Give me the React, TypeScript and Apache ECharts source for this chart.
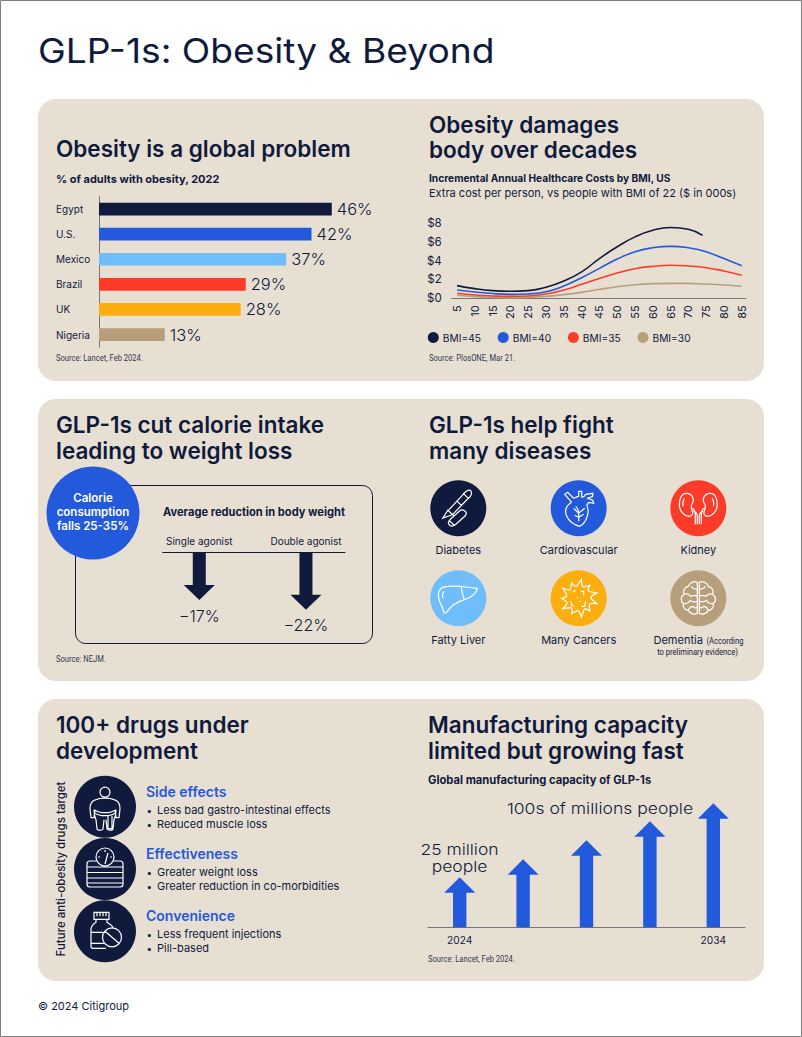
import React, { useEffect, useRef } from "react";
import * as echarts from "echarts";

const NAVY = "#0f1a3c";
const BLUE = "#2359db";
const SKY = "#6fbdfb";
const RED = "#fc3c28";
const AMBER = "#fdae0f";
const TAN = "#b89f7c";
const PANEL = "#e8dfd3";
const AXIS = "#77767a";
const FONT = "Inter";
const NARROW = "Roboto";

const countries = ["Egypt", "U.S.", "Mexico", "Brazil", "UK", "Nigeria"];
const obesityPct = [46, 42, 37, 29, 28, 13];
const countryColors = [NAVY, BLUE, SKY, RED, AMBER, TAN];

const ages = [5, 10, 15, 20, 25, 30, 35, 40, 45, 50, 55, 60, 65, 70, 75, 80, 85];
const ages45 = [5, 10, 15, 20, 25, 30, 35, 40, 45, 50, 55, 60, 65, 70, 74];
const bmi45 = [1.34, 1.02, 0.81, 0.74, 0.81, 1.16, 1.83, 2.8, 4.2, 5.45, 6.5, 7.2, 7.5, 7.3, 6.65];
const bmi40 = [0.88, 0.67, 0.5, 0.42, 0.46, 0.7, 1.3, 2.18, 3.17, 4.15, 4.93, 5.35, 5.5, 5.35, 4.93, 4.2, 3.45];
const bmi35 = [0.53, 0.35, 0.25, 0.2, 0.25, 0.46, 0.88, 1.48, 2.1, 2.68, 3.13, 3.38, 3.49, 3.42, 3.24, 2.89, 2.43];
const bmi30 = [0.32, 0.18, 0.1, 0.07, 0.1, 0.2, 0.39, 0.63, 0.95, 1.23, 1.44, 1.55, 1.58, 1.58, 1.5, 1.4, 1.27];

const agonists = ["Single agonist", "Double agonist"];
const weightChange = [-17, -22];

const capacityYears = ["2024", "", "", "", "2034"];
const capacityLevels = [50, 68, 87, 106, 124];

const diseases = ["Diabetes", "Cardiovascular", "Kidney", "Fatty Liver", "Many Cancers"];

const spikes = (() => {
  let d = "";
  const n = 11;
  for (let i = 0; i < n; i++) {
    const a0 = (i / n) * Math.PI * 2;
    const a1 = ((i + 0.5) / n) * Math.PI * 2;
    const a2 = ((i + 1) / n) * Math.PI * 2;
    const P = (a: number, r: number) => `${(Math.cos(a) * r).toFixed(1)} ${(Math.sin(a) * r).toFixed(1)}`;
    if (i === 0) d += `M${P(a0, 12)}`;
    d += `L${P(a1, i % 2 ? 17 : 19)}Q${P(a1 + 0.12, 11)} ${P(a2, 12.5)}`;
  }
  return d + "Z M-6 -6L-3 -8 M2 -7L5 -7 5 -3 M-8 3L-7 7 -5 8 M7 3L6 8 3 8 M-2 -1L-1 -1 M1 3L2 3";
})();

const icons: Record<string, string> = {
  icoPen:
    "M-15.5 9.8L-11.5 3.5 -9 1 4 -13C6 -16 10 -19.5 12.5 -17.5C14.5 -15 12 -11 9 -9L-5 5.5 -7.5 7Z M-11 1.5L-4.5 7.5 M-1 -7L3 -3 M5 -15L10 -10 M-8.5 17C-11 15 -10 13 -8 11L1.5 2.5C3.5 1 5.5 1.5 7.5 3.5C8.5 5 8 6 7 7.5L-3 16.5C-5 18 -7 18 -8.5 17Z M-9.5 12L-4 17",
  icoHeart:
    "M-7 -6C-12 -3 -14.5 2 -12 8C-10 13 -4 17 1 18C5 16 8 11 9 6C10 2 9 -1 8 -3 M-7 -6L-14 -14 -11 -16 -5 -10 M-5 -10C-3 -11 -1 -12 0 -12L0 -17 3 -17 3 -11 M3 -11C5 -11 6 -12 7 -14L14 -15 14 -12 9 -10 14 -8 15 -5 10 -6 8 -3 M-3 -2C-1 0 0 2 0 5 M0 13L0 5 -5 0 M0 5L6 0 M0 9L5 6 M0 9L-4 7",
  icoKidney:
    "M-12 -15C-17 -15 -19 -9 -19 -4C-19 3 -14 8 -9 8C-6 8 -5 5 -6 3C-7 0 -8 -3 -6 -5C-4 -8 -5 -15 -12 -15Z M-14 -10C-15 -8 -16 -5 -15 -2 M-6 0C-3 1 -3 4 -3 7L-3 16 M-1 16L-1 8C-1 5 -3 3 -5 3",
  icoLiver:
    "M-20 -3C-20 -10 -16 -12 -10 -12C0 -13 8 -11 19 -10C18 -5 13 -1 7 1C0 3 -7 7 -11 13C-13 16 -15 15 -15 12C-16 7 -20 4 -20 -3Z M3 -12C3 -8 4 -4 6 1 M-14 -7C-16 -5 -16 -2 -15 0",
  icoCancer: spikes,
  icoBrain:
    "M-1 -16C-5 -18 -9 -15 -10 -12C-14 -11 -16 -7 -14 -4C-18 -2 -18 3 -15 5C-16 9 -13 12 -10 12C-9 15 -4 17 -1 15Z M-1 -9C-4 -9 -6 -10 -7 -12 M-14 -4C-11 -5 -9 -4 -8 -2C-6 -3 -4 -3 -1 -3 M-15 5C-12 6 -9 4 -8 2C-6 4 -4 4 -1 3 M-10 12C-9 9 -7 8 -5 8C-4 10 -3 10 -1 9",
  icoBody:
    "M5 -14.5A5 5 0 1 1 -5 -14.5A5 5 0 1 1 5 -14.5Z M-9 -7C-13 -6 -15 -2 -15 2L-14 11 -11 11 -10 3 M9 -7C13 -6 15 -2 15 2L14 11 11 11 10 3 M-9 -7C-5 -9 5 -9 9 -7 M-11 3C-11 8 -10 11 -9 13L-8 22C-8 24 -2 24 -2 22L-1 13 M11 3C11 8 10 11 9 13L8 22C8 24 2 24 2 22L1 13 M-11 3C-5 7 5 7 11 3 M-11 6C-5 10 5 10 11 6 M3 9L3 22 7 22 7 9",
  icoScale:
    "M-9 -8L-15 -8A3 3 0 0 0 -18 -5L-18 15A3 3 0 0 0 -15 18L15 18A3 3 0 0 0 18 15L18 -5A3 3 0 0 0 15 -8L9 -8 M-18 -2L18 -2 M-18 3.5L18 3.5 M-18 9L18 9 M-18 14L18 14 M9 -12A9 9 0 1 1 -9 -12A9 9 0 1 1 9 -12Z M0 -5L3 -16 M0 -19L0 -17 M-7 -12L-5 -12 M7 -12L5 -12",
  icoBottle:
    "M-11 -19L4 -19 4 -12 -11 -12Z M-8 -19L-8 -15 M-5 -19L-5 -15 M-2 -19L-2 -15 M1 -19L1 -15 M-9 -12L-9 -9C-12 -7 -14 -5 -14 -2L-14 15C-14 16 -13 17 -12 17L1 17 M2 -12L2 -9C5 -7 7 -6 8 -4 M-14 1L0 1 M-14 12L-1 12 M16.5 6A9.5 9.5 0 1 1 -2.5 6A9.5 9.5 0 1 1 16.5 6Z M0 0L14 12",
};
Object.keys(icons).forEach((k) => {
  echarts.graphic.registerShape(k, echarts.graphic.extendPath(icons[k], {}));
});

const T = (
  x: number,
  y: number,
  text: string,
  size: number,
  weight: number | string = 400,
  fill = NAVY,
  align = "left",
  font = FONT,
  extra: any = {}
) => ({
  type: "text",
  x,
  y,
  ...extra,
  style: { text, x: 0, y: 0, fontSize: size, fontWeight: weight, fontFamily: font, fill, align, verticalAlign: "middle" },
});

const SOURCE_INK = "#33374f";
const N = (x: number, y: number, text: string, align = "left", fill = SOURCE_INK) =>
  T(x, y, text, 9.5, 400, fill, align, NARROW, { scaleX: 0.8 });

const panel = (y: number) => ({
  type: "rect",
  shape: { x: 38, y, width: 726, height: 282, r: 18 },
  style: { fill: PANEL },
});

const disc = (cx: number, cy: number, r: number, fill: string) => ({
  type: "circle",
  shape: { cx, cy, r },
  style: { fill },
});

const icon = (name: string, x: number, y: number, extra: any = {}) => ({
  type: name,
  x,
  y,
  ...extra,
  style: { fill: "none", stroke: "#fff", lineWidth: 1.2 },
});

const H2 = 22.5;
const BODY = 11;
const graphicElements: any[] = [
  { type: "rect", shape: { x: 0.5, y: 0.5, width: 801, height: 1036 }, style: { fill: "#fff", stroke: "#7f7f7f", lineWidth: 1 } },
  panel(99),
  panel(399),
  panel(699),
  T(38, 50, "GLP-1s: Obesity & Beyond", 34.5, 400, NAVY, "left", FONT, { scaleX: 1.078 }),
  T(56, 148.5, "Obesity is a global problem", H2, 600),
  T(56, 179, "% of adults with obesity, 2022", 11, 700),
  N(56, 358, "Source: Lancet, Feb 2024."),
  T(429, 124, "Obesity damages", H2, 600),
  T(429, 149.5, "body over decades", H2, 600),
  T(429, 178, "Incremental Annual Healthcare Costs by BMI, US", 10.2, 700),
  T(429, 193, BODY === 11 ? "Extra cost per person, vs people with BMI of 22 ($ in 000s)" : "", 11, 400),
  N(429, 358, "Source: PlosONE, Mar 21."),
  T(56, 424.5, "GLP-1s cut calorie intake", H2, 600),
  T(56, 450.5, "leading to weight loss", H2, 600),
  T(429, 424.5, "GLP-1s help fight", H2, 600),
  T(429, 450.5, "many diseases", H2, 600),
  { type: "rect", shape: { x: 75.5, y: 485.5, width: 297, height: 158, r: 10 }, style: { fill: "none", stroke: NAVY, lineWidth: 1 } },
  disc(93, 513, 46.5, BLUE),
  T(93, 497.5, "Calorie", 11.5, 600, "#fff", "center"),
  T(93, 512, "consumption", 11.5, 600, "#fff", "center"),
  T(93, 526, "falls 25-35%", 11.5, 600, "#fff", "center"),
  T(163, 512, "Average reduction in body weight", 11.1, 700),
  N(56, 659, "Source: NEJM."),

  disc(458.3, 508.3, 28, NAVY),
  disc(578.7, 508.3, 28, BLUE),
  disc(698.3, 508.3, 28, RED),
  disc(458.3, 598.3, 28, SKY),
  disc(578.7, 598.3, 28, AMBER),
  disc(698.3, 598.3, 28, TAN),
  icon("icoPen", 458.3, 508.3),
  icon("icoHeart", 578.7, 508.3),
  icon("icoKidney", 698.3, 508.3),
  icon("icoKidney", 698.3, 508.3, { scaleX: -1 }),
  icon("icoLiver", 458.3, 598.3),
  icon("icoCancer", 578.7, 598.3),
  icon("icoBrain", 698.3, 598.3),
  icon("icoBrain", 698.3, 598.3, { scaleX: -1 }),
  T(458.3, 549.5, diseases[0], BODY, 400, NAVY, "center"),
  T(578.7, 549.5, diseases[1], BODY, 400, NAVY, "center"),
  T(698.3, 549.5, diseases[2], BODY, 400, NAVY, "center"),
  T(458.3, 640, diseases[3], BODY, 400, NAVY, "center"),
  T(578.7, 640, diseases[4], BODY, 400, NAVY, "center"),
  T(653.5, 640, "Dementia", BODY, 400),
  N(706.5, 640.5, "(According", "left", NAVY),
  N(697.5, 651.5, "to preliminary evidence)", "center", NAVY),

  T(56, 724.5, "100+ drugs under", H2, 600),
  T(56, 750.5, "development", H2, 600),
  T(428, 724.5, "Manufacturing capacity", H2, 600),
  T(428, 750.5, "limited but growing fast", H2, 600),
  T(428, 780, "Global manufacturing capacity of GLP-1s", 11.2, 700),
  N(428, 959, "Source: Lancet, Feb 2024."),
  T(459.5, 849, "25 million", 15, 300, NAVY, "center", FONT, { scaleX: 1.165 }),
  T(459.5, 866, "people", 15, 300, NAVY, "center", FONT, { scaleX: 1.165 }),
  T(600, 808.5, "100s of millions people", 15, 300, NAVY, "center", FONT, { scaleX: 1.17 }),

  T(61, 869, "Future anti-obesity drugs target", 11.5, 500, NAVY, "center", FONT, { rotation: Math.PI / 2 }),
  disc(105, 806.7, 31, NAVY),
  disc(105, 869, 31, NAVY),
  disc(105, 931.3, 31, NAVY),
  icon("icoBody", 105, 806.7),
  icon("icoScale", 105, 869),
  icon("icoBottle", 105, 931.3),

  T(146, 791, "Side effects", 14, 600, BLUE),
  T(146.5, 809.5, "•", 10),
  T(157, 809.5, "Less bad gastro-intestinal effects", BODY),
  T(146.5, 823.5, "•", 10),
  T(157, 823.5, "Reduced muscle loss", BODY),
  T(146, 853, "Effectiveness", 14, 600, BLUE),
  T(146.5, 871.5, "•", 10),
  T(157, 871.5, "Greater weight loss", BODY),
  T(146.5, 885.5, "•", 10),
  T(157, 885.5, "Greater reduction in co-morbidities", BODY),
  T(146, 915, "Convenience", 14, 600, BLUE),
  T(146.5, 933.5, "•", 10),
  T(157, 933.5, "Less frequent injections", BODY),
  T(146.5, 947.5, "•", 10),
  T(157, 947.5, "Pill-based", BODY),

  T(38, 1006, "© 2024 Citigroup", BODY),
];

const noAxisDecor = { axisTick: { show: false }, splitLine: { show: false } };

const lineSeries = (name: string, xs: number[], ys: number[], color: string) => ({
  type: "line",
  name,
  xAxisIndex: 1,
  yAxisIndex: 1,
  data: ys.map((v, i) => [xs[i], v]),
  smooth: true,
  showSymbol: false,
  symbol: "circle",
  lineStyle: { color, width: 1.6 },
  itemStyle: { color },
});

const option: any = {
  animation: false,
  backgroundColor: "#fff",
  textStyle: { fontFamily: FONT },
  graphic: { elements: graphicElements },
  legend: {
    left: 422.8,
    top: 327,
    icon: "circle",
    itemWidth: 11,
    itemHeight: 11,
    itemGap: 16.8,
    selectedMode: false,
    data: ["BMI=45", "BMI=40", "BMI=35", "BMI=30"],
    textStyle: { fontFamily: FONT, fontSize: 10.2, color: NAVY, padding: [0, 0, 0, -1] },
  },
  grid: [
    { left: 99, top: 196.5, width: 253, height: 150.6 },
    { left: 451.7, top: 222.7, width: 294, height: 75.6 },
    { left: 162.7, top: 552.3, width: 182.3, height: 73 },
    { left: 428, top: 787.3, width: 317, height: 140 },
  ],
  xAxis: [
    { gridIndex: 0, type: "value", min: 0, max: 50, show: false, ...noAxisDecor },
    {
      gridIndex: 1,
      type: "value",
      min: 3.5,
      max: 86.1,
      ...noAxisDecor,
      axisLine: { show: true, lineStyle: { color: AXIS, width: 1 } },
      axisLabel: { customValues: ages, rotate: 90, fontSize: 11, color: NAVY, margin: 7, fontFamily: FONT },
    },
    {
      gridIndex: 2,
      type: "value",
      position: "top",
      min: -0.343,
      max: 1.366,
      ...noAxisDecor,
      axisLine: { show: true, onZero: false, lineStyle: { color: NAVY, width: 1 } },
      axisLabel: {
        customValues: [0, 1],
        formatter: (v: number) => agonists[v],
        fontSize: 10,
        color: NAVY,
        margin: 6,
        fontFamily: FONT,
      },
    },
    {
      gridIndex: 3,
      type: "category",
      data: capacityYears,
      ...noAxisDecor,
      axisLine: { show: true, lineStyle: { color: AXIS, width: 1 } },
      axisLabel: { interval: 0, fontSize: 10.2, color: NAVY, margin: 8, fontFamily: FONT },
    },
  ],
  yAxis: [
    {
      gridIndex: 0,
      type: "category",
      inverse: true,
      data: countries,
      ...noAxisDecor,
      axisLine: { show: true, lineStyle: { color: AXIS, width: 1 } },
      axisLabel: { align: "left", margin: 43, fontSize: 10, color: NAVY, fontFamily: FONT },
    },
    {
      gridIndex: 1,
      type: "value",
      min: 0,
      max: 8,
      interval: 2,
      ...noAxisDecor,
      axisLine: { show: false },
      axisLabel: { formatter: "${value}", fontSize: 11.5, color: NAVY, margin: 10, fontFamily: FONT },
    },
    { gridIndex: 2, type: "value", min: -30, max: 7.6, show: false, ...noAxisDecor },
    { gridIndex: 3, type: "value", min: 0, max: 140, show: false, ...noAxisDecor },
  ],
  series: [
    {
      type: "bar",
      xAxisIndex: 0,
      yAxisIndex: 0,
      barWidth: 12.7,
      data: obesityPct.map((value, i) => ({ value, itemStyle: { color: countryColors[i] } })),
      label: {
        show: true,
        position: "right",
        distance: 5,
        formatter: "{c}%",
        fontSize: 16.5,
        fontWeight: 300,
        color: NAVY,
        fontFamily: FONT,
      },
    },
    lineSeries("BMI=30", ages, bmi30, TAN),
    lineSeries("BMI=35", ages, bmi35, RED),
    lineSeries("BMI=40", ages, bmi40, BLUE),
    lineSeries("BMI=45", ages45, bmi45, NAVY),
    {
      type: "custom",
      xAxisIndex: 2,
      yAxisIndex: 2,
      data: weightChange.map((v, i) => [i, v]),
      encode: { x: 0, y: 1 },
      clip: false,
      renderItem: (params: any, api: any) => {
        const tip = api.coord([api.value(0), api.value(1)]);
        const top = params.coordSys.y;
        const [x, y] = tip;
        return {
          type: "group",
          children: [
            {
              type: "polygon",
              shape: {
                points: [
                  [x - 6.5, top],
                  [x + 6.5, top],
                  [x + 6.5, y - 15],
                  [x + 15.5, y - 15],
                  [x, y],
                  [x - 15.5, y - 15],
                  [x - 6.5, y - 15],
                ],
              },
              style: { fill: NAVY },
            },
            {
              type: "text",
              style: {
                x,
                y: y + 15.5,
                text: `\u2212${Math.abs(api.value(1))}%`,
                fontSize: 16,
                fontWeight: 300,
                fontFamily: FONT,
                fill: NAVY,
                align: "center",
                verticalAlign: "middle",
              },
            },
          ],
        };
      },
    },
    {
      type: "custom",
      xAxisIndex: 3,
      yAxisIndex: 3,
      data: capacityLevels.map((v, i) => [i, v]),
      encode: { x: 0, y: 1 },
      clip: false,
      renderItem: (_: any, api: any) => {
        const [x, y] = api.coord([api.value(0), api.value(1)]);
        const [, y0] = api.coord([api.value(0), 0]);
        return {
          type: "polygon",
          shape: {
            points: [
              [x - 6.7, y0],
              [x + 6.7, y0],
              [x + 6.7, y + 15.5],
              [x + 15.5, y + 15.5],
              [x, y],
              [x - 15.5, y + 15.5],
              [x - 6.7, y + 15.5],
            ],
          },
          style: { fill: BLUE },
        };
      },
    },
  ],
};

export default function App() {
  const ref = useRef<HTMLDivElement>(null);
  useEffect(() => {
    document.body.style.margin = "0";
    const chart = echarts.init(ref.current!, undefined, { renderer: "svg" });
    chart.setOption(option);
    return () => chart.dispose();
  }, []);
  return <div ref={ref} style={{ width: 802, height: 1037 }} />;
}
